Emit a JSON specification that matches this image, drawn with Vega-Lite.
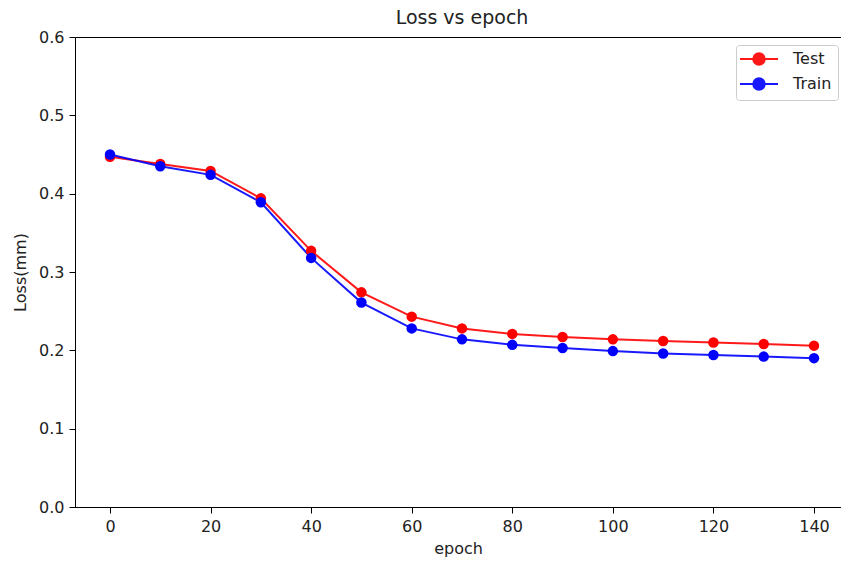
{
  "$schema": "https://vega.github.io/schema/vega-lite/v6.json",
  "width": 766,
  "height": 470,
  "autosize": {"type": "none"},
  "padding": {"left": 75, "top": 37, "right": 0, "bottom": 54},
  "background": "white",
  "title": {"text": "Loss vs epoch", "fontSize": 19, "font": "DejaVu Sans", "fontWeight": "normal", "color": "#222", "offset": 1, "anchor": "middle", "dx": 4},
  "data": {
    "values": [
      {"epoch": 0, "loss": 0.447, "set": "Test"},
      {"epoch": 10, "loss": 0.438, "set": "Test"},
      {"epoch": 20, "loss": 0.429, "set": "Test"},
      {"epoch": 30, "loss": 0.394, "set": "Test"},
      {"epoch": 40, "loss": 0.327, "set": "Test"},
      {"epoch": 50, "loss": 0.274, "set": "Test"},
      {"epoch": 60, "loss": 0.243, "set": "Test"},
      {"epoch": 70, "loss": 0.228, "set": "Test"},
      {"epoch": 80, "loss": 0.221, "set": "Test"},
      {"epoch": 90, "loss": 0.217, "set": "Test"},
      {"epoch": 100, "loss": 0.214, "set": "Test"},
      {"epoch": 110, "loss": 0.212, "set": "Test"},
      {"epoch": 120, "loss": 0.210, "set": "Test"},
      {"epoch": 130, "loss": 0.208, "set": "Test"},
      {"epoch": 140, "loss": 0.206, "set": "Test"},
      {"epoch": 0, "loss": 0.450, "set": "Train"},
      {"epoch": 10, "loss": 0.435, "set": "Train"},
      {"epoch": 20, "loss": 0.424, "set": "Train"},
      {"epoch": 30, "loss": 0.389, "set": "Train"},
      {"epoch": 40, "loss": 0.318, "set": "Train"},
      {"epoch": 50, "loss": 0.261, "set": "Train"},
      {"epoch": 60, "loss": 0.228, "set": "Train"},
      {"epoch": 70, "loss": 0.214, "set": "Train"},
      {"epoch": 80, "loss": 0.207, "set": "Train"},
      {"epoch": 90, "loss": 0.203, "set": "Train"},
      {"epoch": 100, "loss": 0.199, "set": "Train"},
      {"epoch": 110, "loss": 0.196, "set": "Train"},
      {"epoch": 120, "loss": 0.194, "set": "Train"},
      {"epoch": 130, "loss": 0.192, "set": "Train"},
      {"epoch": 140, "loss": 0.190, "set": "Train"}
    ]
  },
  "encoding": {
    "x": {
      "field": "epoch", "type": "quantitative",
      "scale": {"domain": [-6.96, 145.37], "nice": false, "zero": false},
      "axis": {"values": [0, 20, 40, 60, 80, 100, 120, 140], "title": "epoch", "titlePadding": 6}
    },
    "y": {
      "field": "loss", "type": "quantitative",
      "scale": {"domain": [0, 0.6], "nice": false},
      "axis": {"values": [0, 0.1, 0.2, 0.3, 0.4, 0.5, 0.6], "format": ".1f", "title": "Loss(mm)", "titlePadding": 10}
    },
    "color": {
      "field": "set", "type": "nominal",
      "scale": {"domain": ["Test", "Train"], "range": ["#ff0000", "#0000ff"]},
      "legend": {
        "title": null,
        "orient": "none",
        "legendX": 661,
        "legendY": 8,
        "symbolType": "M-2,0H5.6M0.65,0A1.15,1.15,0,1,1,2.95,0A1.15,1.15,0,1,1,0.65,0Z",
        "symbolSize": 100,
        "symbolStrokeWidth": 2,
        "labelFontSize": 16,
        "labelFont": "DejaVu Sans",
        "labelColor": "#222",
        "labelOffset": 35,
        "rowPadding": 5,
        "fillColor": "white",
        "strokeColor": "#cccccc",
        "cornerRadius": 3,
        "padding": 6,
        "offset": 0,
        "encode": {
          "symbols": {
            "update": {
              "fill": {"scale": "color", "field": "value"},
              "stroke": {"scale": "color", "field": "value"},
              "opacity": {"value": 1},
              "x": {"value": 19}
            }
          }
        }
      }
    }
  },
  "layer": [
    {"mark": {"type": "line", "strokeWidth": 2, "opacity": 0.9}},
    {"mark": {"type": "circle", "size": 110, "opacity": 1}}
  ],
  "config": {
    "view": {"stroke": "#000", "strokeWidth": 1},
    "axis": {
      "grid": false,
      "domainColor": "#000",
      "tickColor": "#000",
      "tickSize": 6,
      "labelFont": "DejaVu Sans",
      "labelFontSize": 16,
      "labelColor": "#222",
      "labelPadding": 5,
      "titleFont": "DejaVu Sans",
      "titleFontSize": 16,
      "titleFontWeight": "normal",
      "titleColor": "#222"
    }
  }
}
